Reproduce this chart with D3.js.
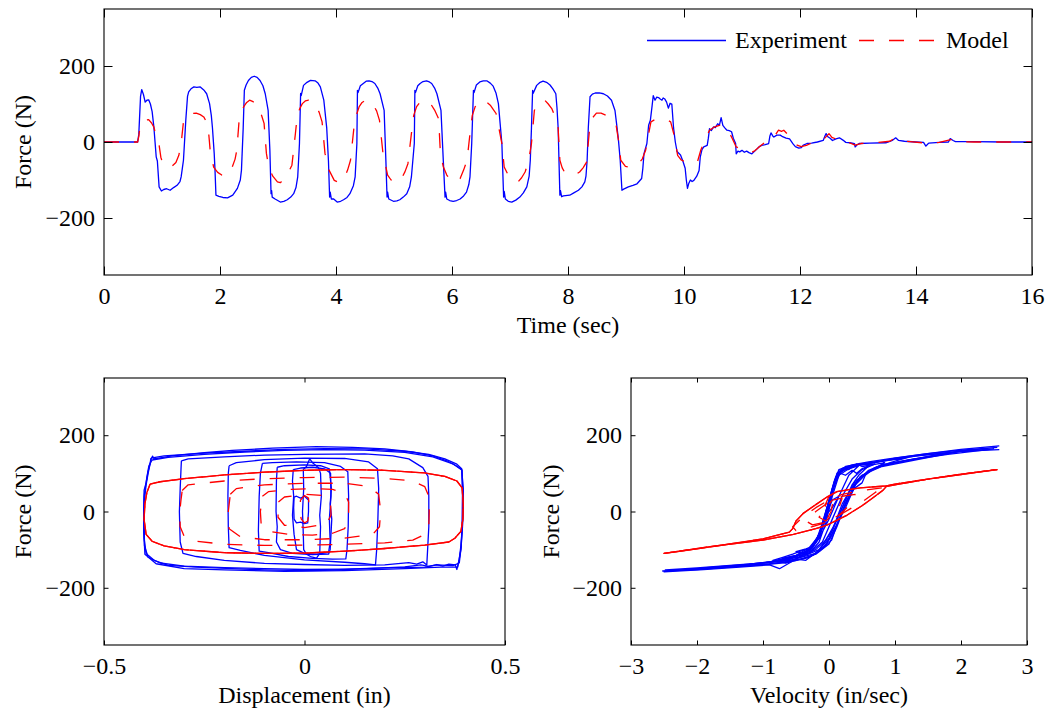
<!DOCTYPE html>
<html><head><meta charset="utf-8">
<script src="https://cdn.jsdelivr.net/npm/d3@7"></script>
<style>
body{margin:0;background:#fff;}
svg text{font-family:"Liberation Serif","Times New Roman",serif;fill:#000;}
</style></head><body>
<svg id="chart" width="1050" height="712"></svg>
<script>
// ---------------- DATA ----------------
const timeTicks = [0, 2, 4, 6, 8, 10, 12, 14, 16];
const forceTicks = [-200, 0, 200];
const dispTicks = [-0.5, 0, 0.5];
const velTicks = [-3, -2, -1, 0, 1, 2, 3];
const seriesNames = ["Experiment", "Model"];

// Force vs time, experiment [t (sec), F (N)]
const forceTimeExp = [[0,0],[0.58,0],[0.6,20],[0.63,120],[0.65,138],[0.68,125],[0.71,105],[0.74,110],[0.77,111],[0.80,100],[0.83,80],[0.86,39],[0.88,0],[0.90,-39],[0.92,-50],[0.95,-118],[0.99,-129],[1.03,-125],[1.08,-123],[1.14,-127],[1.2,-120],[1.26,-114],[1.31,-104],[1.33,-92],[1.35,-70],[1.37,-48],[1.41,57],[1.44,120],[1.46,132],[1.5,140],[1.55,145],[1.6,144],[1.66,145],[1.72,137],[1.77,127],[1.82,101],[1.85,70],[1.87,37],[1.9,-30],[1.914,-74],[1.93,-140],[1.98,-143],[2.05,-146],[2.13,-147],[2.22,-140],[2.30,-122],[2.35,-100],[2.37,-74],[2.40,37],[2.42,136],[2.45,150],[2.49,162],[2.54,170],[2.59,173],[2.64,170],[2.69,162],[2.74,148],[2.78,127],[2.83,83],[2.86,-22],[2.88,-136],[2.89,-128],[2.90,-145],[2.95,-150],[3.04,-158],[3.10,-156],[3.16,-152],[3.22,-145],[3.27,-136],[3.31,-120],[3.34,-92],[3.37,-4],[3.39,128],[3.40,122],[3.44,149],[3.50,157],[3.56,162],[3.64,161],[3.69,155],[3.73,145],[3.79,110],[3.84,37],[3.87,-50],[3.89,-145],[3.90,-132],[3.92,-150],[3.96,-150],[4.02,-158],[4.08,-156],[4.13,-152],[4.19,-146],[4.24,-136],[4.30,-115],[4.33,-92],[4.36,-4],[4.37,136],[4.38,130],[4.42,148],[4.47,154],[4.52,160],[4.57,161],[4.62,159],[4.67,154],[4.72,142],[4.76,127],[4.83,83],[4.86,-49],[4.88,-145],[4.89,-132],[4.91,-150],[4.99,-156],[5.05,-155],[5.10,-152],[5.16,-145],[5.22,-136],[5.27,-118],[5.30,-92],[5.35,-4],[5.36,136],[5.37,130],[5.41,148],[5.45,154],[5.50,159],[5.56,161],[5.61,158],[5.65,154],[5.70,142],[5.74,127],[5.81,83],[5.85,-49],[5.88,-145],[5.89,-132],[5.91,-150],[5.96,-154],[6.02,-156],[6.08,-154],[6.14,-150],[6.20,-142],[6.25,-132],[6.29,-112],[6.31,-92],[6.34,-4],[6.37,136],[6.38,130],[6.42,150],[6.48,158],[6.54,161],[6.60,161],[6.66,155],[6.71,147],[6.76,128],[6.80,101],[6.86,-4],[6.89,-145],[6.90,-130],[6.92,-150],[6.97,-156],[7.03,-158],[7.10,-153],[7.17,-145],[7.23,-134],[7.29,-118],[7.33,-90],[7.35,-48],[7.37,37],[7.39,136],[7.40,128],[7.46,149],[7.51,156],[7.57,160],[7.63,157],[7.69,150],[7.74,140],[7.79,127],[7.81,90],[7.83,37],[7.86,-140],[7.87,-128],[7.89,-144],[7.92,-142],[8.03,-140],[8.10,-134],[8.18,-127],[8.24,-118],[8.29,-105],[8.31,-90],[8.33,-48],[8.35,37],[8.38,119],[8.42,126],[8.47,129],[8.54,129],[8.61,127],[8.68,121],[8.75,110],[8.81,83],[8.84,45],[8.87,5],[8.90,-48],[8.93,-127],[8.96,-124],[9.04,-118],[9.12,-114],[9.19,-110],[9.27,-96],[9.29,-70],[9.31,-31],[9.36,-4],[9.39,44],[9.42,57],[9.45,95],[9.47,122],[9.50,110],[9.53,118],[9.56,117],[9.59,113],[9.62,110],[9.64,116],[9.67,113],[9.70,105],[9.73,89],[9.76,102],[9.79,100],[9.82,37],[9.85,0],[9.88,-25],[9.94,-34],[9.98,-50],[10.02,-69],[10.04,-100],[10.06,-122],[10.08,-110],[10.11,-100],[10.14,-104],[10.17,-101],[10.22,-90],[10.26,-75],[10.28,-40],[10.31,-20],[10.34,-13],[10.40,-9],[10.42,10],[10.44,35],[10.47,30],[10.51,40],[10.54,38],[10.58,48],[10.61,44],[10.64,64],[10.67,44],[10.70,38],[10.74,31],[10.78,30],[10.82,27],[10.85,10],[10.89,-4],[10.90,-31],[10.93,-24],[10.96,-26],[11.00,-22],[11.04,-27],[11.08,-24],[11.12,-28],[11.17,-31],[11.22,-24],[11.26,-18],[11.30,-12],[11.34,-9],[11.40,-7],[11.46,-4],[11.48,15],[11.50,24],[11.53,16],[11.55,13],[11.6,18],[11.66,18],[11.70,14],[11.76,10],[11.82,8],[11.88,-5],[11.92,-12],[11.98,-16],[12.02,-15],[12.06,-8],[12.12,-4],[12.2,-3],[12.3,0],[12.40,4],[12.43,16],[12.45,22],[12.48,14],[12.52,10],[12.56,4],[12.62,8],[12.68,11],[12.74,5],[12.79,-1],[12.86,-2],[12.94,-4],[12.95,-13],[12.98,-8],[13.02,-4],[13.2,-3],[13.48,-2],[13.56,2],[13.59,4],[13.65,11],[13.70,4],[13.8,2],[14.0,0],[14.13,-1],[14.17,-11],[14.2,-6],[14.22,-3],[14.4,-1],[14.56,0],[14.59,9],[14.64,4],[14.68,1],[15.0,1],[15.5,0],[16,0]];

// Force vs time, model [t (sec), F (N)]
const forceTimeModel = [[0,0],[0.58,0],[0.6,15],[0.62,40],[0.66,55],[0.72,58],[0.77,59],[0.82,50],[0.86,39],[0.90,15],[0.95,-8],[0.98,-40],[1.02,-60],[1.10,-66],[1.17,-64],[1.24,-54],[1.29,-35],[1.33,-4],[1.37,53],[1.42,66],[1.47,73],[1.53,75],[1.59,76],[1.66,72],[1.72,66],[1.77,52],[1.80,32],[1.83,-21],[1.89,-66],[1.96,-80],[2.03,-87],[2.09,-89],[2.15,-82],[2.21,-66],[2.26,-45],[2.29,-21],[2.33,58],[2.37,80],[2.41,93],[2.46,104],[2.51,110],[2.57,106],[2.64,97],[2.70,78],[2.76,49],[2.80,-30],[2.84,-66],[2.91,-90],[2.99,-105],[3.04,-107],[3.12,-96],[3.18,-80],[3.24,-61],[3.30,22],[3.33,66],[3.37,86],[3.42,101],[3.47,108],[3.53,110],[3.59,106],[3.65,97],[3.71,78],[3.76,53],[3.81,-30],[3.88,-74],[3.97,-101],[4.05,-107],[4.14,-96],[4.20,-74],[4.25,-48],[4.31,39],[4.35,70],[4.40,93],[4.45,104],[4.51,110],[4.57,107],[4.63,101],[4.70,82],[4.75,57],[4.81,-30],[4.89,-87],[4.95,-100],[5.01,-107],[5.07,-103],[5.13,-96],[5.19,-78],[5.24,-57],[5.30,22],[5.34,70],[5.39,93],[5.45,105],[5.51,110],[5.57,106],[5.63,101],[5.70,84],[5.77,61],[5.80,-30],[5.85,-65],[5.91,-87],[5.97,-100],[6.03,-105],[6.09,-102],[6.14,-96],[6.20,-74],[6.26,-48],[6.31,22],[6.35,70],[6.40,93],[6.46,106],[6.52,110],[6.58,107],[6.66,97],[6.71,86],[6.76,75],[6.86,-4],[6.90,-66],[6.97,-87],[7.05,-100],[7.14,-105],[7.20,-94],[7.26,-79],[7.32,-50],[7.37,-4],[7.42,83],[7.48,100],[7.54,108],[7.60,110],[7.66,100],[7.72,88],[7.78,65],[7.83,37],[7.86,-48],[7.90,-68],[7.94,-79],[8.01,-85],[8.09,-87],[8.15,-84],[8.20,-79],[8.26,-68],[8.32,-53],[8.37,31],[8.43,65],[8.49,76],[8.57,76],[8.66,70],[8.75,58],[8.83,44],[8.87,5],[8.91,-48],[8.99,-64],[9.05,-66],[9.11,-66],[9.20,-60],[9.28,-45],[9.34,-21],[9.37,5],[9.43,53],[9.50,59],[9.57,61],[9.66,59],[9.72,57],[9.77,53],[9.83,18],[9.89,-35],[9.95,-47],[10.03,-53],[10.13,-55],[10.23,-53],[10.29,-21],[10.36,5],[10.44,31],[10.53,40],[10.61,44],[10.66,43],[10.70,40],[10.76,31],[10.83,10],[10.90,-13],[10.96,-17],[11.02,-20],[11.10,-24],[11.17,-27],[11.22,-23],[11.26,-18],[11.32,-10],[11.37,-4],[11.43,3],[11.49,9],[11.56,15],[11.63,31],[11.68,28],[11.72,31],[11.8,18],[11.87,10],[11.95,-8],[12.02,-12],[12.11,-9],[12.2,-3],[12.3,0],[12.40,6],[12.50,22],[12.55,12],[12.62,8],[12.68,10],[12.75,3],[12.85,-2],[12.95,-8],[13.05,-4],[13.3,-2],[13.55,2],[13.62,9],[13.7,3],[13.9,1],[14.1,-2],[14.2,-5],[14.4,-1],[14.6,6],[14.7,1],[15,0],[16,0]];

// Force vs displacement loops, experiment [d (in), F (N)]
const dispLoopsExp = [
  [[-0.382,138],[-0.379,145],[-0.375,138],[-0.33,146],[-0.25,154],[-0.18,160],[-0.08,166],[0.03,170],[0.12,168],[0.2,164],[0.27,156],[0.32,146],[0.355,133],[0.378,120],[0.392,110],[0.396,60],[0.396,0],[0.393,-50],[0.39,-90],[0.386,-125],[0.38,-152],[0.376,-140],[0.36,-138],[0.345,-143],[0.33,-139],[0.31,-144],[0.29,-140],[0.25,-145],[0.155,-150],[0.05,-154],[-0.01,-155],[-0.1,-153],[-0.18,-150],[-0.27,-146],[-0.34,-141],[-0.375,-128],[-0.395,-110],[-0.4,-70],[-0.401,0],[-0.4,56],[-0.395,75],[-0.39,105],[-0.382,138]],
  [[-0.38,135],[-0.34,142],[-0.25,150],[-0.15,156],[-0.05,160],[0.05,162],[0.15,161],[0.25,155],[0.32,143],[0.37,125],[0.393,108],[0.395,40],[0.394,-40],[0.39,-100],[0.382,-146],[0.34,-146],[0.25,-150],[0.1,-155],[-0.05,-157],[-0.2,-153],[-0.3,-150],[-0.37,-137],[-0.398,-112],[-0.401,-50],[-0.4,40],[-0.393,90],[-0.388,120],[-0.38,135]],
  [[-0.383,140],[-0.35,146],[-0.25,153],[-0.15,158],[-0.05,163],[0.05,165],[0.15,164],[0.25,158],[0.31,150],[0.35,138],[0.38,124],[0.392,112],[0.394,50],[0.393,-30],[0.391,-90],[0.386,-135],[0.37,-142],[0.33,-140],[0.3,-146],[0.2,-148],[0.1,-151],[0,-152],[-0.1,-150],[-0.2,-147],[-0.3,-143],[-0.36,-135],[-0.39,-120],[-0.399,-90],[-0.4,-30],[-0.399,30],[-0.395,70],[-0.39,100],[-0.385,125],[-0.383,140]],
  [[-0.307,133],[-0.29,138],[-0.2,143],[-0.1,148],[0,150],[0.15,151],[0.22,146],[0.26,138],[0.295,115],[0.308,92],[0.31,40],[0.31,-40],[0.307,-100],[0.305,-140],[0.295,-132],[0.28,-138],[0.26,-134],[0.2,-140],[0.1,-141],[0,-139],[-0.1,-136],[-0.2,-128],[-0.27,-118],[-0.303,-110],[-0.31,-80],[-0.312,0],[-0.31,60],[-0.308,110],[-0.307,133]],
  [[-0.188,120],[-0.17,128],[-0.1,136],[0,140],[0.1,139],[0.16,130],[0.182,112],[0.185,60],[0.183,-20],[0.18,-100],[0.177,-140],[0.15,-137],[0.1,-133],[0,-127],[-0.1,-115],[-0.16,-102],[-0.188,-95],[-0.19,-40],[-0.191,40],[-0.19,100],[-0.188,120]],
  [[-0.105,126],[-0.08,128],[-0.02,130],[0.05,128],[0.09,118],[0.108,104],[0.11,40],[0.109,-40],[0.106,-100],[0.103,-124],[0.07,-125],[0.02,-123],[-0.04,-118],[-0.09,-108],[-0.113,-104],[-0.115,-50],[-0.113,40],[-0.11,100],[-0.105,126]],
  [[-0.068,116],[-0.05,120],[0,122],[0.04,120],[0.062,112],[0.067,60],[0.064,20],[0.068,-20],[0.066,-60],[0.064,-100],[0.06,-112],[0.02,-113],[-0.03,-110],[-0.06,-100],[-0.07,-80],[-0.068,-40],[-0.071,0],[-0.07,80],[-0.068,116]],
  [[-0.028,110],[-0.01,114],[0.02,116],[0.05,112],[0.065,100],[0.066,40],[0.062,-20],[0.064,-80],[0.06,-108],[0.03,-112],[0,-110],[-0.02,-100],[-0.026,-60],[-0.03,-10],[-0.027,40],[-0.03,80],[-0.028,110]],
  [[-0.003,110],[0.005,118],[0.013,138],[0.02,128],[0.035,115],[0.04,100],[0.042,40],[0.038,-10],[0.04,-40],[0.038,-110],[0.03,-122],[0.015,-118],[0.005,-112],[-0.002,-100],[-0.003,-60],[-0.005,0],[-0.002,60],[-0.003,110]],
  [[-0.026,38],[-0.02,40],[-0.01,35],[0,40],[0.01,30],[0.01,0],[0.008,-30],[0,-32],[-0.01,-28],[-0.02,-30],[-0.026,-20],[-0.027,10],[-0.026,38]]
];

// Force vs displacement loops, model [d (in), F (N)]
const dispLoopsModel = [
  [[-0.385,72],[-0.36,78],[-0.3,86],[-0.2,96],[-0.1,103],[0,108],[0.1,110],[0.2,108],[0.3,101],[0.35,92],[0.38,80],[0.393,62],[0.396,20],[0.395,-20],[0.39,-52],[0.375,-70],[0.36,-80],[0.3,-88],[0.2,-97],[0.1,-104],[0,-109],[-0.1,-110],[-0.2,-108],[-0.3,-100],[-0.35,-90],[-0.38,-78],[-0.395,-60],[-0.4,-20],[-0.398,20],[-0.393,50],[-0.385,72]],
  [[-0.305,55],[-0.29,70],[-0.2,80],[-0.1,86],[0,89],[0.1,90],[0.2,87],[0.27,80],[0.3,65],[0.31,40],[0.311,0],[0.31,-40],[0.3,-60],[0.27,-75],[0.2,-82],[0.1,-86],[0,-88],[-0.1,-89],[-0.2,-86],[-0.27,-78],[-0.3,-65],[-0.31,-40],[-0.311,0],[-0.308,30],[-0.305,55]],
  [[-0.185,45],[-0.17,60],[-0.1,70],[0,74],[0.1,74],[0.16,66],[0.185,45],[0.19,0],[0.187,-40],[0.17,-60],[0.1,-70],[0,-74],[-0.1,-74],[-0.16,-66],[-0.188,-45],[-0.19,0],[-0.185,45]],
  [[-0.105,40],[-0.09,52],[-0.04,58],[0.02,60],[0.07,58],[0.1,48],[0.11,25],[0.11,-20],[0.1,-45],[0.07,-57],[0.02,-62],[-0.04,-60],[-0.09,-52],[-0.108,-35],[-0.11,0],[-0.105,40]],
  [[-0.065,25],[-0.05,38],[0,45],[0.045,42],[0.065,25],[0.066,-10],[0.055,-33],[0,-42],[-0.05,-36],[-0.066,-15],[-0.065,25]],
  [[-0.01,30],[0,42],[0.01,35],[0.012,0],[0.008,-25],[0,-30],[-0.008,-20],[-0.012,0],[-0.01,30]]
];

// Force vs velocity loops, experiment [v (in/sec), F (N)]
const velLoopsExp = [
  [[2.55,168],[2.0,161],[1.5,152],[1.0,140],[0.7,128],[0.4,120],[0.2,113],[0.1,85],[0.0,15],[-0.1,-40],[-0.2,-82],[-0.3,-100],[-0.5,-118],[-0.8,-130],[-1.2,-140],[-1.8,-149],[-2.52,-156],[-2.0,-152],[-1.5,-146],[-1.0,-140],[-0.6,-133],[-0.3,-120],[-0.15,-105],[0.04,-75],[0.15,-20],[0.27,30],[0.47,91],[0.7,115],[1.0,128],[1.6,148],[2.1,160],[2.55,168]],
  [[2.58,172],[2.0,163],[1.4,150],[0.9,138],[0.6,130],[0.35,122],[0.15,110],[0.05,60],[-0.05,-10],[-0.15,-60],[-0.25,-95],[-0.45,-120],[-0.75,-150],[-0.9,-140],[-1.3,-145],[-1.9,-152],[-2.5,-158],[-1.9,-150],[-1.3,-143],[-0.9,-137],[-0.5,-128],[-0.25,-115],[-0.05,-90],[0.1,-40],[0.25,10],[0.4,70],[0.6,105],[0.85,122],[1.3,138],[2.0,158],[2.58,162]],
  [[2.5,164],[2.0,158],[1.4,148],[1.0,137],[0.75,130],[0.45,124],[0.25,118],[0.12,100],[0.02,40],[-0.08,-20],[-0.18,-70],[-0.3,-95],[-0.5,-115],[-0.9,-132],[-1.5,-145],[-2.0,-150],[-2.48,-153],[-2.0,-148],[-1.4,-140],[-1.0,-135],[-0.7,-130],[-0.4,-124],[-0.2,-112],[0.0,-85],[0.12,-40],[0.25,20],[0.4,75],[0.6,108],[0.8,122],[1.2,135],[1.8,150],[2.5,164]],
  [[1.9,155],[1.3,145],[0.8,133],[0.45,122],[0.2,110],[0.08,70],[-0.05,0],[-0.15,-60],[-0.3,-100],[-0.6,-125],[-1.2,-140],[-1.9,-148],[-1.2,-138],[-0.6,-128],[-0.2,-110],[0,-70],[0.15,-10],[0.3,50],[0.5,95],[0.8,118],[1.3,135],[1.9,155]],
  [[1.2,142],[0.8,132],[0.5,125],[0.25,115],[0.1,90],[0,30],[-0.1,-40],[-0.25,-95],[-0.5,-118],[-0.9,-133],[-1.2,-138],[-0.8,-130],[-0.4,-118],[-0.15,-100],[0.05,-50],[0.2,20],[0.4,80],[0.7,115],[1.0,132],[1.2,142]],
  [[0.85,128],[0.65,122],[0.5,118],[0.42,125],[0.3,110],[0.2,112],[0.12,98],[0.05,55],[-0.02,10],[-0.1,-35],[-0.18,-75],[-0.28,-98],[-0.4,-102],[-0.55,-112],[-0.7,-120],[-0.85,-128],[-0.65,-135],[-0.5,-125],[-0.35,-128],[-0.2,-108],[-0.08,-92],[0.02,-70],[0.12,-35],[0.22,5],[0.3,35],[0.38,60],[0.5,75],[0.55,95],[0.68,112],[0.85,128]],
  [[0.7,125],[0.5,122],[0.3,115],[0.15,100],[0.05,50],[-0.05,-20],[-0.15,-70],[-0.3,-105],[-0.5,-115],[-0.7,-122],[-0.5,-118],[-0.3,-110],[-0.1,-80],[0.05,-20],[0.2,40],[0.35,85],[0.5,110],[0.7,125]],
  [[0.6,120],[0.5,112],[0.42,100],[0.35,108],[0.25,95],[0.15,102],[0.08,80],[0,30],[-0.08,-25],[-0.15,-65],[-0.25,-92],[-0.35,-98],[-0.5,-105],[-0.35,-112],[-0.2,-100],[-0.05,-75],[0.05,-45],[0.15,-10],[0.25,30],[0.35,70],[0.45,95],[0.6,120]],
  [[0.45,120],[0.3,112],[0.15,95],[0.05,40],[-0.05,-30],[-0.15,-80],[-0.3,-110],[-0.45,-118],[-0.3,-105],[-0.15,-70],[0,-20],[0.15,40],[0.3,95],[0.45,120]],
  [[0.15,40],[0.05,30],[0,10],[-0.05,-20],[-0.1,-30],[-0.05,-10],[0.05,10],[0.15,40]]
];

// Force vs velocity loops, model [v (in/sec), F (N)]
const velLoopsModel = [
  [[2.55,110],[2.0,98],[1.5,85],[1.0,72],[0.87,67],[0.47,62],[0.12,52],[-0.03,38],[-0.2,18],[-0.39,-5],[-0.5,-25],[-0.55,-45],[-0.6,-54],[-1.0,-72],[-1.8,-93],[-2.5,-110],[-1.8,-92],[-1.0,-75],[-0.54,-60],[-0.2,-45],[-0.035,-36],[0.27,-10],[0.5,15],[0.62,30],[0.82,56],[0.87,66],[1.0,70],[1.5,85],[2.0,97],[2.55,110]],
  [[0.8,62],[0.5,55],[0.2,45],[0,30],[-0.2,10],[-0.4,-15],[-0.55,-40],[-0.5,-50],[-0.3,-42],[-0.1,-32],[0.1,-15],[0.3,5],[0.5,25],[0.7,50],[0.8,62]],
  [[0.4,45],[0.2,40],[0,25],[-0.2,0],[-0.35,-25],[-0.25,-35],[-0.05,-28],[0.15,-10],[0.3,15],[0.4,45]],
  [[0.2,35],[0.05,30],[-0.05,10],[-0.15,-15],[-0.05,-25],[0.05,-10],[0.15,10],[0.2,35]],
  [[0.05,45],[0,40],[-0.05,20],[-0.08,-10],[-0.03,-20],[0.03,0],[0.06,25],[0.05,45]]
];

// ---------------- DRAWING ----------------
const svg = d3.select('#chart');
const BLUE = '#0000ff', RED = '#ff0000';
const FS = 24;
const DASH = '15,15';
let clipId = 0;

function panel(o) {
  const g = svg.append('g').attr('transform', `translate(${o.x0},${o.y0})`);
  const x = d3.scaleLinear().domain(o.xDomain).range([0, o.w]);
  const y = d3.scaleLinear().domain(o.yDomain).range([o.h, 0]);
  const id = 'clip' + (clipId++);
  g.append('clipPath').attr('id', id).append('rect')
    .attr('x', 0).attr('y', 0).attr('width', o.w).attr('height', o.h);
  const plot = g.append('g').attr('clip-path', `url(#${id})`);

  const fmt = d3.format('');
  const styleAxis = (sel) => {
    sel.select('.domain').remove();
    sel.selectAll('line').attr('stroke', '#000').attr('stroke-width', 1);
    sel.selectAll('text').attr('font-size', FS).attr('font-family', '"Liberation Serif", serif').attr('fill', '#000');
  };
  g.append('g').attr('transform', `translate(0,${o.h})`)
    .call(d3.axisBottom(x).tickValues(o.xTicks).tickFormat(v => fmt(v)).tickSizeInner(-o.tick).tickSizeOuter(0).tickPadding(12))
    .call(styleAxis);
  g.append('g')
    .call(d3.axisTop(x).tickValues(o.xTicks).tickFormat('').tickSizeInner(-o.tick).tickSizeOuter(0))
    .call(styleAxis);
  g.append('g')
    .call(d3.axisLeft(y).tickValues(o.yTicks).tickFormat(d3.format('')).tickSizeInner(-o.tick).tickSizeOuter(0).tickPadding(9))
    .call(styleAxis);
  g.append('g').attr('transform', `translate(${o.w},0)`)
    .call(d3.axisRight(y).tickValues(o.yTicks).tickFormat('').tickSizeInner(-o.tick).tickSizeOuter(0))
    .call(styleAxis);

  g.append('rect').attr('x', 0).attr('y', 0).attr('width', o.w).attr('height', o.h)
    .attr('fill', 'none').attr('stroke', '#000').attr('stroke-width', 1.1);

  g.append('text').attr('x', o.w / 2).attr('y', o.h + 57.5)
    .attr('text-anchor', 'middle').attr('font-size', FS).text(o.xLabel);
  g.append('text').attr('transform', `translate(${-o.ylOff},${o.h / 2}) rotate(-90)`)
    .attr('text-anchor', 'middle').attr('font-size', FS).text(o.yLabel);

  return { g, plot, x, y };
}

function drawLines(p, list, color, dashed, repeatFirst) {
  const line = d3.line().x(d => p.x(d[0])).y(d => p.y(d[1]));
  list.forEach((pts, i) => {
    const offsets = (dashed && repeatFirst && i === 0) ? [0, 8, 15, 22] : [0];
    offsets.forEach(off => {
      const path = p.plot.append('path').datum(pts)
        .attr('d', line).attr('fill', 'none')
        .attr('stroke', color).attr('stroke-width', 1.3)
        .attr('stroke-linejoin', 'round');
      if (dashed) path.attr('stroke-dasharray', DASH).attr('stroke-dashoffset', off);
    });
  });
}

// Top: force vs time
const timePanel = panel({ x0: 104, y0: 9, w: 928, h: 266, xDomain: [0, 16], yDomain: [-350, 350],
  xTicks: timeTicks, yTicks: forceTicks, tick: 8.5, xLabel: 'Time (sec)', yLabel: 'Force (N)', ylOff: 73.5 });
drawLines(timePanel, [forceTimeExp], BLUE, false);
drawLines(timePanel, [forceTimeModel], RED, true);

// Legend
const lg = svg.append('g');
lg.append('line').attr('x1', 647).attr('x2', 726).attr('y1', 40.5).attr('y2', 40.5)
  .attr('stroke', BLUE).attr('stroke-width', 1.3);
lg.append('text').attr('x', 735).attr('y', 48).attr('font-size', FS).text(seriesNames[0]);
lg.append('line').attr('x1', 859).attr('x2', 937).attr('y1', 40.5).attr('y2', 40.5)
  .attr('stroke', RED).attr('stroke-width', 1.3).attr('stroke-dasharray', DASH);
lg.append('text').attr('x', 946).attr('y', 48).attr('font-size', FS).text(seriesNames[1]);

// Bottom-left: force vs displacement
const dispPanel = panel({ x0: 104, y0: 378, w: 401, h: 267, xDomain: [-0.5, 0.5], yDomain: [-350, 350],
  xTicks: dispTicks, yTicks: forceTicks, tick: 4.5, xLabel: 'Displacement (in)', yLabel: 'Force (N)', ylOff: 73.5 });
drawLines(dispPanel, dispLoopsExp, BLUE, false);
drawLines(dispPanel, dispLoopsModel, RED, true, true);

// Bottom-right: force vs velocity
const velPanel = panel({ x0: 631, y0: 378, w: 396, h: 267, xDomain: [-3, 3], yDomain: [-350, 350],
  xTicks: velTicks, yTicks: forceTicks, tick: 4.5, xLabel: 'Velocity (in/sec)', yLabel: 'Force (N)', ylOff: 72 });
drawLines(velPanel, velLoopsExp, BLUE, false);
drawLines(velPanel, velLoopsModel, RED, true, true);
</script>
</body></html>
